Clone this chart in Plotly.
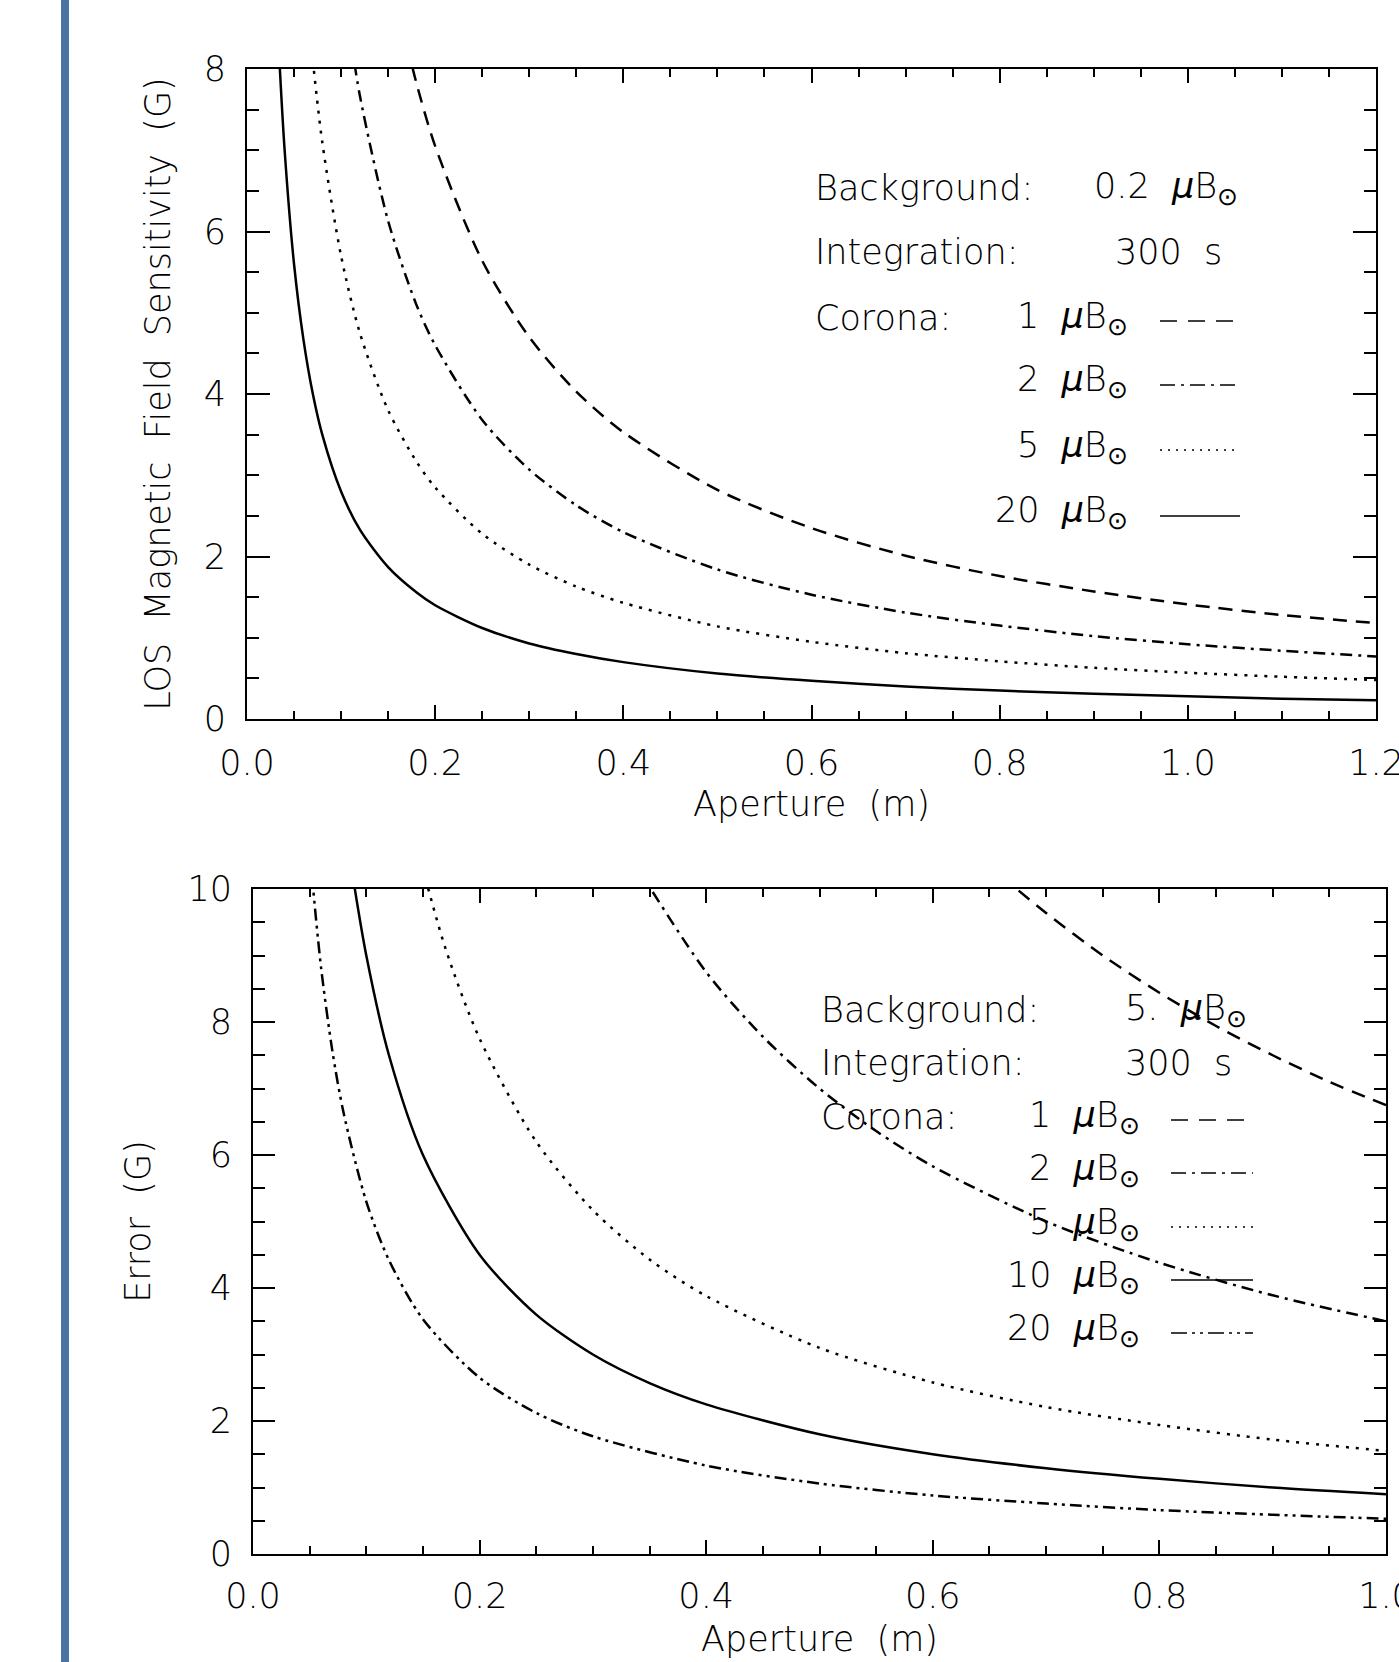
import plotly.graph_objects as go

W, H = 1399, 1662
FONT = "DejaVu Sans"
FS = 35
FW = 200

# ---------------- Top panel: Background 0.2 μB⊙, 300 s ----------------
top_x_c1 = [0.17, 0.18, 0.2, 0.25, 0.3, 0.35, 0.4, 0.5, 0.6, 0.7, 0.8, 0.9, 1.0, 1.1, 1.2]
top_y_c1 = [8.3, 7.83, 7.05, 5.64, 4.7, 4.03, 3.53, 2.82, 2.35, 2.01, 1.76, 1.57, 1.41, 1.28, 1.18]

top_x_c2 = [0.11, 0.12, 0.15, 0.18, 0.2, 0.25, 0.3, 0.35, 0.4, 0.5, 0.6, 0.7, 0.8, 0.9, 1.0, 1.1, 1.2]
top_y_c2 = [8.4, 7.67, 6.13, 5.1, 4.6, 3.68, 3.07, 2.63, 2.3, 1.84, 1.53, 1.31, 1.15, 1.02, 0.92, 0.84, 0.77]

top_x_c5 = [0.07, 0.08, 0.1, 0.12, 0.15, 0.18, 0.2, 0.25, 0.3, 0.35, 0.4, 0.5, 0.6, 0.7, 0.8, 0.9, 1.0, 1.1, 1.2]
top_y_c5 = [8.1, 7.1, 5.7, 4.75, 3.8, 3.17, 2.85, 2.28, 1.9, 1.63, 1.43, 1.14, 0.95, 0.81, 0.71, 0.63, 0.57, 0.52, 0.48]

top_x_c20 = [0.034, 0.04, 0.05, 0.06, 0.07, 0.08, 0.1, 0.12, 0.15, 0.18, 0.2, 0.25, 0.3, 0.35, 0.4,
             0.5, 0.6, 0.7, 0.8, 0.9, 1.0, 1.1, 1.2]
top_y_c20 = [8.2, 7.0, 5.6, 4.67, 4.0, 3.5, 2.8, 2.33, 1.87, 1.56, 1.4, 1.12, 0.93, 0.8, 0.7,
             0.56, 0.47, 0.4, 0.35, 0.31, 0.28, 0.25, 0.23]

# ---------------- Bottom panel: Background 5 μB⊙, 300 s ----------------
bot_x_c1 = [0.66, 0.7, 0.75, 0.8, 0.85, 0.9, 0.95, 1.0]
bot_y_c1 = [10.2, 9.64, 9.0, 8.44, 7.94, 7.5, 7.1, 6.75]

bot_x_c2 = [0.34, 0.4, 0.45, 0.5, 0.55, 0.6, 0.7, 0.8, 0.9, 1.0]
bot_y_c2 = [10.3, 8.75, 7.78, 7.0, 6.36, 5.83, 5.0, 4.38, 3.89, 3.5]

bot_x_c5 = [0.15, 0.17, 0.2, 0.25, 0.3, 0.35, 0.4, 0.5, 0.6, 0.7, 0.8, 0.9, 1.0]
bot_y_c5 = [10.3, 9.1, 7.75, 6.2, 5.17, 4.43, 3.88, 3.1, 2.58, 2.21, 1.94, 1.72, 1.55]

bot_x_c10 = [0.088, 0.1, 0.12, 0.15, 0.2, 0.25, 0.3, 0.35, 0.4, 0.5, 0.6, 0.7, 0.8, 0.9, 1.0]
bot_y_c10 = [10.2, 9.0, 7.5, 6.0, 4.5, 3.6, 3.0, 2.57, 2.25, 1.8, 1.5, 1.29, 1.13, 1.0, 0.9]

bot_x_c20 = [0.052, 0.06, 0.07, 0.08, 0.1, 0.12, 0.15, 0.2, 0.25, 0.3, 0.4, 0.5, 0.6, 0.7, 0.8, 0.9, 1.0]
bot_y_c20 = [10.2, 8.83, 7.57, 6.63, 5.3, 4.42, 3.53, 2.65, 2.12, 1.77, 1.33, 1.06, 0.88, 0.76, 0.66, 0.59, 0.53]

top_xticks = [0.0, 0.2, 0.4, 0.6, 0.8, 1.0, 1.2]
top_yticks = [0, 2, 4, 6, 8]
bot_xticks = [0.0, 0.2, 0.4, 0.6, 0.8, 1.0]
bot_yticks = [0, 2, 4, 6, 8, 10]

DASH = "14px,9px"
DASHDOT = "12px,6px,3px,6px"
DOT = "3px,7px"
DASHDOTDOT = "12px,5px,3px,5px,3px,5px"

fig = go.Figure()

def add(x, y, dash, xa, ya, name):
    fig.add_trace(go.Scatter(x=x, y=y, mode="lines", name=name,
                             line=dict(color="black", width=2.5, dash=dash, shape="spline", smoothing=0.8),
                             xaxis=xa, yaxis=ya, showlegend=False))

add(top_x_c1, top_y_c1, DASH, "x", "y", "1 μB")
add(top_x_c2, top_y_c2, DASHDOT, "x", "y", "2 μB")
add(top_x_c5, top_y_c5, DOT, "x", "y", "5 μB")
add(top_x_c20, top_y_c20, "solid", "x", "y", "20 μB")

add(bot_x_c1, bot_y_c1, DASH, "x2", "y2", "1 μB")
add(bot_x_c2, bot_y_c2, DASHDOT, "x2", "y2", "2 μB")
add(bot_x_c5, bot_y_c5, DOT, "x2", "y2", "5 μB")
add(bot_x_c10, bot_y_c10, "solid", "x2", "y2", "10 μB")
add(bot_x_c20, bot_y_c20, DASHDOTDOT, "x2", "y2", "20 μB")

def px(x):
    return x / W

def py(y):
    return 1 - y / H

TF = dict(family=FONT, size=FS, color="black", weight=FW)

axis_common = dict(showline=True, linecolor="black", linewidth=2, mirror="ticks",
                   ticks="inside", tickcolor="black", tickwidth=1.5, showgrid=False,
                   zeroline=False, automargin=False, tickfont=TF, ticklabeloverflow="allow")

fig.update_layout(
    template="none",
    width=W, height=H, margin=dict(l=0, r=0, t=0, b=0, pad=0), autosize=False,
    paper_bgcolor="white", plot_bgcolor="white",
    font=TF,
    xaxis=dict(domain=[px(247), px(1376)], range=[0, 1.2], anchor="y",
               tickvals=top_xticks, tickformat=".1f", ticklen=14, ticklabelstandoff=12,
               minor=dict(dtick=0.05, tick0=0, ticks="inside", ticklen=8, tickcolor="black", tickwidth=1.5),
               title=dict(text="Aperture  (m)", font=TF, standoff=9),
               **axis_common),
    yaxis=dict(domain=[py(719), py(69)], range=[0, 8], anchor="x",
               tickvals=top_yticks, ticklen=23, ticklabelstandoff=12,
               minor=dict(dtick=0.5, tick0=0, ticks="inside", ticklen=12, tickcolor="black", tickwidth=1.5),
               title=dict(text="LOS  Magnetic  Field  Sensitivity  (G)", font=TF, standoff=22),
               **axis_common),
    xaxis2=dict(domain=[px(253), px(1386)], range=[0, 1.0], anchor="y2",
                tickvals=bot_xticks, tickformat=".1f", ticklen=14, ticklabelstandoff=10,
                minor=dict(dtick=0.05, tick0=0, ticks="inside", ticklen=8, tickcolor="black", tickwidth=1.5),
                title=dict(text="Aperture  (m)", font=TF, standoff=11),
                **axis_common),
    yaxis2=dict(domain=[py(1554), py(889)], range=[0, 10], anchor="x2",
                tickvals=bot_yticks, ticklen=22, ticklabelstandoff=12,
                minor=dict(dtick=0.5, tick0=0, ticks="inside", ticklen=12, tickcolor="black", tickwidth=1.5),
                title=dict(text="Error  (G)", font=TF, standoff=26),
                **axis_common),
)

# Blue side bar
fig.add_shape(type="rect", xref="paper", yref="paper", x0=px(61), x1=px(69), y0=0, y1=1,
              line=dict(width=0), fillcolor="#4a72a2", layer="below")

MU = "<i>μ</i>B<sub>⊙</sub>"

def text(x, y, s, anchor):
    fig.add_annotation(xref="paper", yref="paper", x=px(x), y=py(y), text=s, showarrow=False,
                       xanchor=anchor, yanchor="middle", font=TF)

def sample(x0, x1, y, dash):
    fig.add_shape(type="line", xref="paper", yref="paper", x0=px(x0), x1=px(x1), y0=py(y), y1=py(y),
                  line=dict(color="black", width=1.5, dash=dash))

S_DASH = "17px,11px"
S_DASHDOT = "15px,6px,3px,6px"
S_DOT = "2px,6px"
S_DASHDOTDOT = "16px,5px,3px,5px,3px,5px"

# Top legend
top_rows = [188, 252, 318, 382, 447, 513]
text(813, top_rows[0], "Background:", "left")
text(1092, top_rows[0], "0.2  " + MU, "left")
text(813, top_rows[1], "Integration:", "left")
text(1113, top_rows[1], "300  s", "left")
text(813, top_rows[2], "Corona:", "left")
text(1130, top_rows[2], "1  " + MU, "right")
text(1130, top_rows[3], "2  " + MU, "right")
text(1130, top_rows[4], "5  " + MU, "right")
text(1130, top_rows[5], "20  " + MU, "right")
sample(1160, 1240, top_rows[2] + 3, S_DASH)
sample(1160, 1240, top_rows[3] + 3, S_DASHDOT)
sample(1160, 1240, top_rows[4] + 3, S_DOT)
sample(1160, 1240, top_rows[5] + 3, "solid")

# Bottom legend
bot_rows = [1010, 1063, 1117, 1170, 1224, 1277, 1330]
text(819, bot_rows[0], "Background:", "left")
text(1123, bot_rows[0], "5.  " + MU, "left")
text(819, bot_rows[1], "Integration:", "left")
text(1123, bot_rows[1], "300  s", "left")
text(819, bot_rows[2], "Corona:", "left")
text(1142, bot_rows[2], "1  " + MU, "right")
text(1142, bot_rows[3], "2  " + MU, "right")
text(1142, bot_rows[4], "5  " + MU, "right")
text(1142, bot_rows[5], "10  " + MU, "right")
text(1142, bot_rows[6], "20  " + MU, "right")
sample(1171, 1253, bot_rows[2] + 3, S_DASH)
sample(1171, 1253, bot_rows[3] + 3, S_DASHDOT)
sample(1171, 1253, bot_rows[4] + 3, S_DOT)
sample(1171, 1253, bot_rows[5] + 3, "solid")
sample(1171, 1253, bot_rows[6] + 3, S_DASHDOTDOT)

fig.write_html("out.html", config={"displayModeBar": False},
               post_script="document.body.style.margin='0';")
